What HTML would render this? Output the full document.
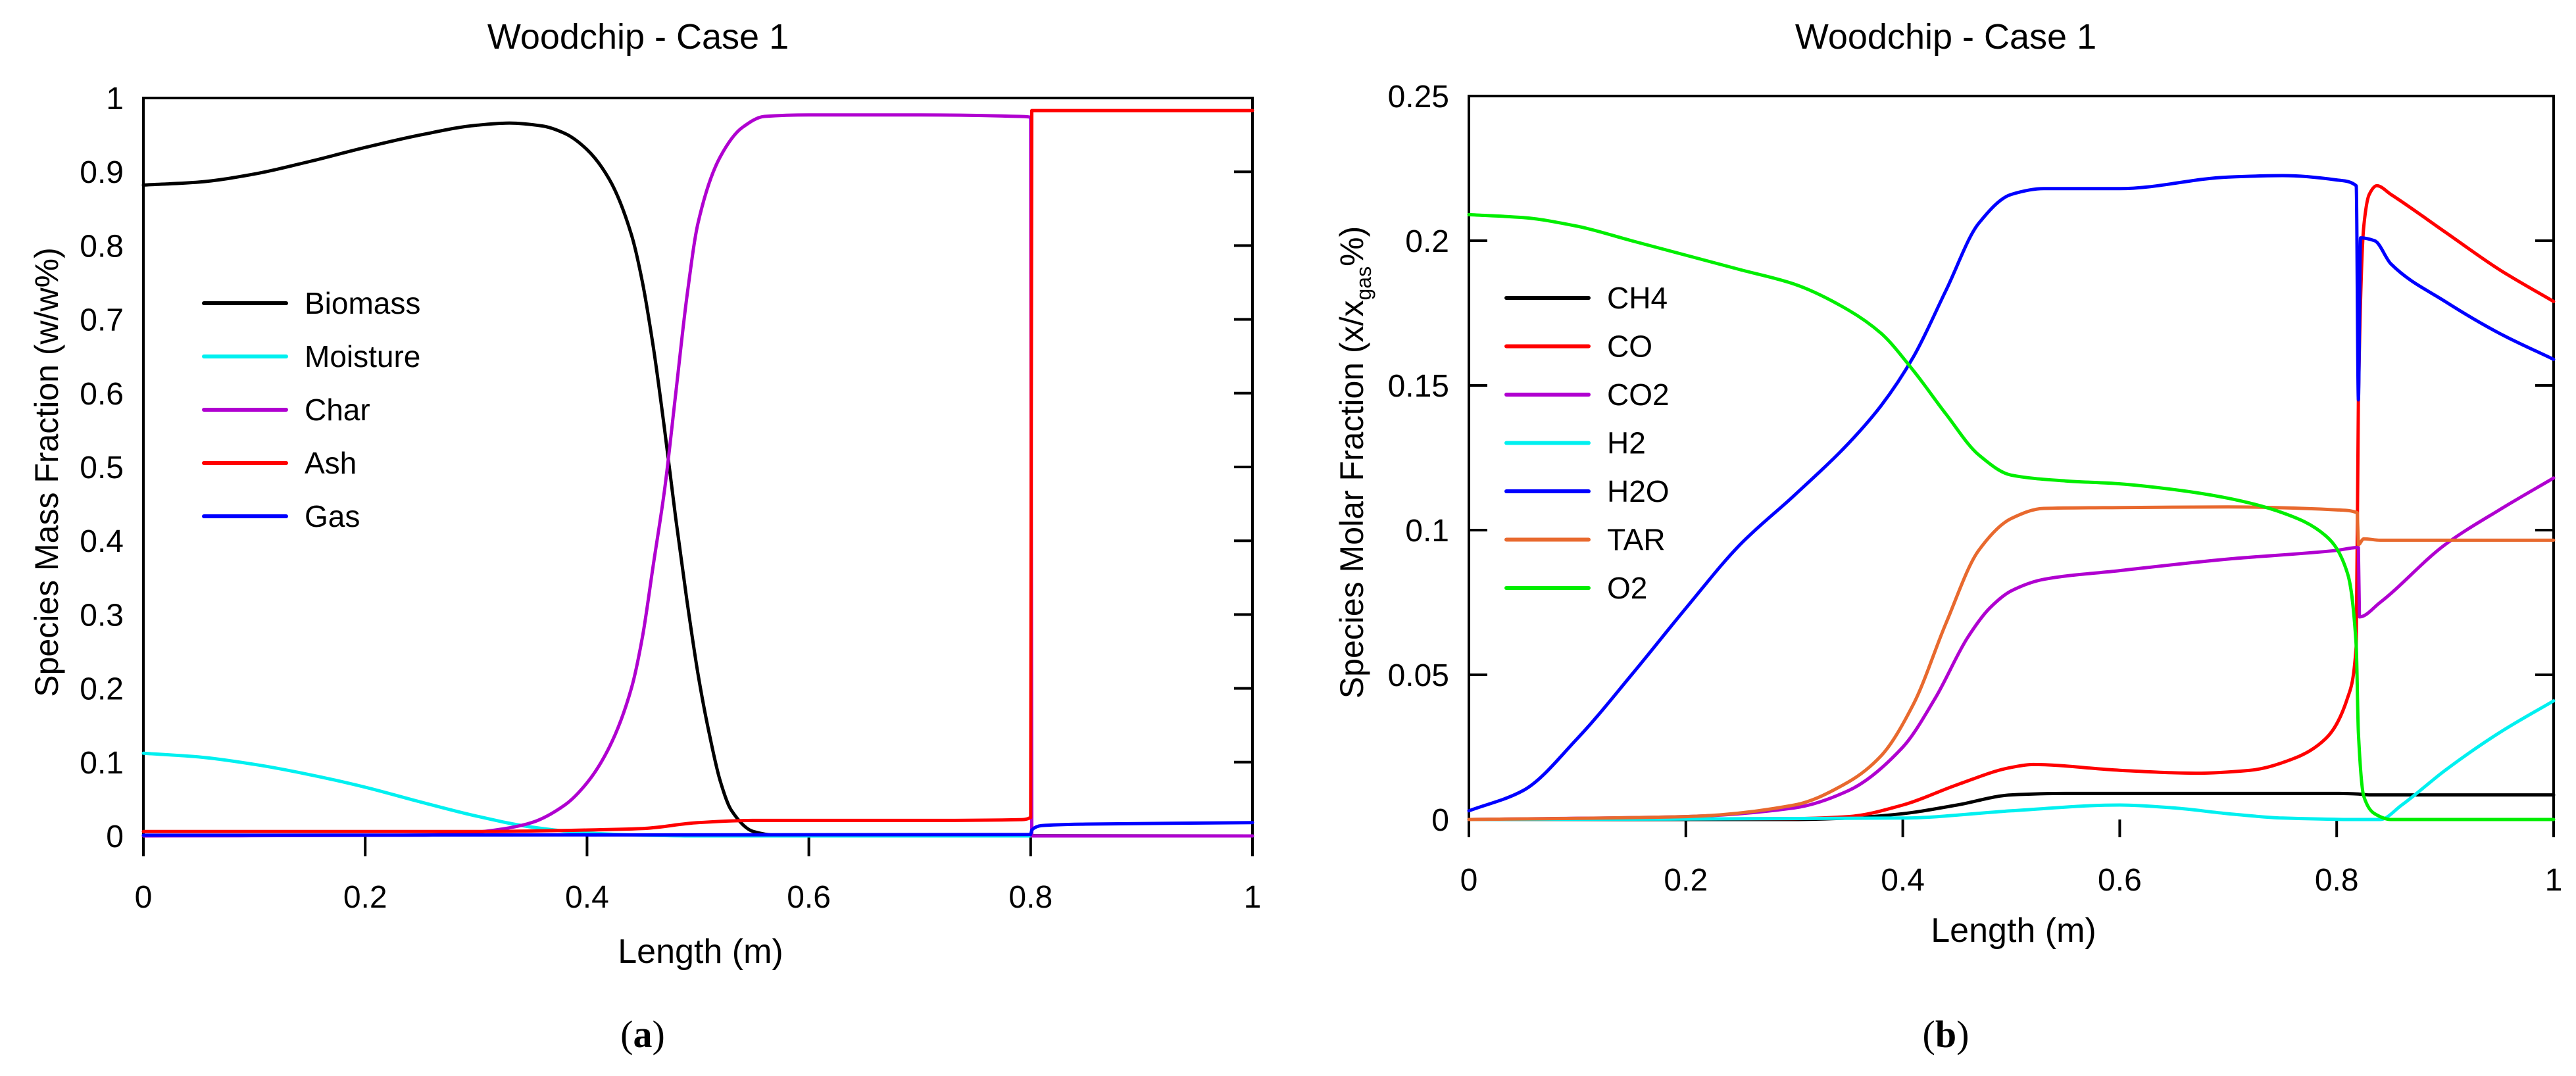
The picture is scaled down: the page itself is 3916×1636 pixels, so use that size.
<!DOCTYPE html>
<html><head><meta charset="utf-8">
<style>
html,body{margin:0;padding:0;background:#fff;}
svg{display:block;font-family:"Liberation Sans",sans-serif;}
</style></head>
<body>
<svg id="fig" width="3916" height="1636" viewBox="0 0 3916 1636">
  <g id="panelA"></g>
  <g id="panelB"></g>
</svg>
<script>
// ---------- Panel (a) data ----------
const aBiomassX = [0,0.05,0.1,0.15,0.2,0.25,0.3,0.33,0.36,0.38,0.4,0.42,0.44,0.45,0.46,0.47,0.48,0.49,0.5,0.51,0.52,0.53,0.55,0.57,1];
const aBiomassY = [0.882,0.886,0.897,0.914,0.933,0.95,0.963,0.966,0.962,0.952,0.93,0.89,0.815,0.75,0.66,0.55,0.43,0.32,0.22,0.14,0.075,0.035,0.006,0.001,0];
const aMoistX = [0,0.05,0.1,0.15,0.2,0.25,0.3,0.35,0.4,0.45,0.5,1];
const aMoistY = [0.112,0.107,0.097,0.083,0.066,0.046,0.027,0.012,0.004,0.001,0,0];
const aCharX = [0,0.25,0.3,0.33,0.35,0.38,0.4,0.42,0.44,0.45,0.46,0.47,0.48,0.49,0.5,0.52,0.54,0.56,0.6,0.7,0.79,0.8,0.801,1];
const aCharY = [0,0.001,0.005,0.011,0.018,0.042,0.072,0.12,0.2,0.27,0.37,0.47,0.6,0.73,0.83,0.92,0.96,0.975,0.977,0.977,0.975,0.974,0,0];
const aAshX = [0,0.3,0.4,0.45,0.5,0.55,0.7,0.79,0.8,0.801,1];
const aAshY = [0.006,0.006,0.008,0.01,0.018,0.021,0.021,0.022,0.025,0.983,0.983];
const aGasX = [0,0.8,0.801,0.81,0.85,1];
const aGasY = [0.001,0.002,0.008,0.014,0.016,0.018];
const aXTicks = [0,0.2,0.4,0.6,0.8,1];
const aXTickLabels = ["0","0.2","0.4","0.6","0.8","1"];
const aYTicks = [0,0.1,0.2,0.3,0.4,0.5,0.6,0.7,0.8,0.9,1];
const aYTickLabels = ["0","0.1","0.2","0.3","0.4","0.5","0.6","0.7","0.8","0.9","1"];

// ---------- Panel (b) data ----------
const bCH4X = [0,0.3,0.35,0.4,0.45,0.5,0.55,0.8,0.82,0.83,1];
const bCH4Y = [0,0,0.0005,0.002,0.005,0.0085,0.009,0.009,0.0088,0.0085,0.0085];
const bCOX = [0,0.3,0.35,0.4,0.45,0.5,0.52,0.6,0.67,0.72,0.76,0.79,0.81,0.818,0.82,0.825,0.83,0.837,0.85,0.9,0.95,1];
const bCOY = [0,0.0003,0.001,0.005,0.012,0.018,0.019,0.017,0.016,0.017,0.021,0.028,0.042,0.06,0.145,0.205,0.216,0.219,0.216,0.203,0.19,0.179];
const bCO2X = [0,0.2,0.3,0.35,0.4,0.43,0.46,0.48,0.5,0.53,0.6,0.7,0.8,0.82,0.821,0.84,0.9,0.95,1];
const bCO2Y = [0,0.001,0.004,0.01,0.025,0.042,0.063,0.073,0.079,0.083,0.086,0.09,0.093,0.094,0.07,0.075,0.095,0.107,0.118];
const bH2X = [0,0.4,0.5,0.6,0.65,0.7,0.75,0.819,0.821,0.84,0.86,0.9,0.95,1];
const bH2Y = [0,0.0005,0.003,0.005,0.004,0.002,0.0005,0,0,0,0.005,0.017,0.03,0.041];
const bH2OX = [0,0.05,0.1,0.15,0.2,0.25,0.3,0.35,0.38,0.41,0.44,0.47,0.5,0.53,0.6,0.7,0.75,0.8,0.818,0.82,0.822,0.835,0.85,0.9,0.95,1];
const bH2OY = [0.003,0.01,0.028,0.05,0.073,0.095,0.112,0.13,0.143,0.16,0.183,0.206,0.216,0.218,0.218,0.222,0.2225,0.221,0.219,0.145,0.201,0.2,0.192,0.179,0.168,0.159];
const bTARX = [0,0.2,0.3,0.35,0.38,0.41,0.44,0.47,0.5,0.53,0.6,0.7,0.8,0.819,0.82,0.825,0.84,1];
const bTARY = [0,0.001,0.005,0.013,0.022,0.04,0.068,0.093,0.104,0.1075,0.1078,0.108,0.107,0.106,0.095,0.097,0.0965,0.0965];
const bO2X = [0,0.05,0.1,0.15,0.2,0.25,0.3,0.35,0.38,0.41,0.44,0.47,0.5,0.55,0.6,0.65,0.7,0.75,0.79,0.81,0.818,0.82,0.825,0.835,0.85,1];
const bO2Y = [0.209,0.208,0.205,0.2,0.195,0.19,0.185,0.176,0.168,0.155,0.14,0.126,0.119,0.117,0.116,0.114,0.111,0.106,0.098,0.085,0.06,0.03,0.008,0.002,0,0];
const bXTicks = [0,0.2,0.4,0.6,0.8,1];
const bXTickLabels = ["0","0.2","0.4","0.6","0.8","1"];
const bYTicks = [0,0.05,0.1,0.15,0.2,0.25];
const bYTickLabels = ["0","0.05","0.1","0.15","0.2","0.25"];

const NS = "http://www.w3.org/2000/svg";
function mk(tag, attrs, parent){
  const e = document.createElementNS(NS, tag);
  for (const k in attrs) e.setAttribute(k, attrs[k]);
  parent.appendChild(e);
  return e;
}

function monoPath(px, py){
  const n = px.length;
  if (n < 3) return 'M' + px.map((x,i)=>x.toFixed(1)+','+py[i].toFixed(1)).join(' L');
  const d = [], m = new Array(n);
  for (let i=0;i<n-1;i++){ const dx = px[i+1]-px[i]; d.push(dx === 0 ? 0 : (py[i+1]-py[i])/dx); }
  m[0] = d[0]; m[n-1] = d[n-2];
  for (let i=1;i<n-1;i++){
    if (d[i-1]*d[i] <= 0) m[i] = 0;
    else { const w1 = 2*(px[i+1]-px[i]) + (px[i]-px[i-1]), w2 = (px[i+1]-px[i]) + 2*(px[i]-px[i-1]);
      m[i] = (w1+w2)/(w1/d[i-1] + w2/d[i]); }
  }
  let s = 'M' + px[0].toFixed(1) + ',' + py[0].toFixed(1);
  for (let i=0;i<n-1;i++){
    const h = px[i+1]-px[i];
    if (h < 3) { s += ' L' + px[i+1].toFixed(1) + ',' + py[i+1].toFixed(1); continue; }
    const c1x = px[i]+h/3, c1y = py[i]+m[i]*h/3;
    const c2x = px[i+1]-h/3, c2y = py[i+1]-m[i+1]*h/3;
    s += ` C${c1x.toFixed(1)},${c1y.toFixed(1)} ${c2x.toFixed(1)},${c2y.toFixed(1)} ${px[i+1].toFixed(1)},${py[i+1].toFixed(1)}`;
  }
  return s;
}

function drawPanel(g, cfg){
  const xs = v => cfg.x0 + (v - cfg.xmin) / (cfg.xmax - cfg.xmin) * (cfg.x1 - cfg.x0);
  const ys = v => cfg.y0 - (v - cfg.ymin) / (cfg.ymax - cfg.ymin) * (cfg.y0 - cfg.y1);
  const frame = mk('path', {d:`M${cfg.x0},${cfg.bottom} L${cfg.x0},${cfg.y1} L${cfg.x1},${cfg.y1} L${cfg.x1},${cfg.bottom}`, fill:'none', stroke:'#000', 'stroke-width':4}, g);
  
  
  cfg.yTicks.forEach((t, i) => {
    const y = ys(t);
    if (cfg.rightTicks && t > cfg.ymin && t < cfg.ymax) {
      const tk = mk('line', {x1:cfg.x1-28, x2:cfg.x1, y1:y, y2:y, stroke:'#000', 'stroke-width':4}, g);
      
      
    }
    if (cfg.leftTicks && t > cfg.ymin && t < cfg.ymax) {
      const tk2 = mk('line', {x1:cfg.x0, x2:cfg.x0+28, y1:y, y2:y, stroke:'#000', 'stroke-width':4}, g);
      
      
    }
    const lb = mk('text', {x:cfg.x0-30, y:y+17, 'text-anchor':'end', 'font-size':48, fill:'#000'}, g);
    lb.textContent = cfg.yTickLabels[i];
    
    
  });
  cfg.xTicks.forEach((t, i) => {
    const x = xs(t);
    const tk = mk('line', {x1:x, x2:x, y1:cfg.y0, y2:cfg.bottom, stroke:'#000', 'stroke-width':4}, g);
    
    
    const lb = mk('text', {x:x, y:cfg.xLabelY, 'text-anchor':'middle', 'font-size':48, fill:'#000'}, g);
    lb.textContent = cfg.xTickLabels[i];
    
    
  });
  cfg.series.forEach(s => {
    const px = s.x.map(xs), py = s.y.map(ys);
    const pl = mk('path', {d:monoPath(px, py), fill:'none', stroke:s.color, 'stroke-width':5, 'stroke-linejoin':'round', 'stroke-linecap':'round'}, g);
    
    
  });
  cfg.series.forEach((s, i) => {
    const ly = cfg.legY + i * cfg.legDy;
    const ln = mk('line', {x1:cfg.legX, x2:cfg.legX+125, y1:ly, y2:ly, stroke:s.color, 'stroke-width':6, 'stroke-linecap':'round'}, g);
    
    
    const tx = mk('text', {x:cfg.legX+153, y:ly+16, 'font-size':46, fill:'#000'}, g);
    tx.textContent = s.name;
    
    
  });
}

drawPanel(document.getElementById('panelA'), {
  x0:218, x1:1904, y0:1271, y1:149, bottom:1302, xmin:0, xmax:1, ymin:0, ymax:1,
  xTicks:aXTicks, xTickLabels:aXTickLabels, yTicks:aYTicks, yTickLabels:aYTickLabels,
  rightTicks:true, leftTicks:false, xLabelY:1380,
  legX:310, legY:461, legDy:81,
  series:[
    {name:'Biomass', color:'#000000', x:aBiomassX, y:aBiomassY},
    {name:'Moisture', color:'#00f0f0', x:aMoistX, y:aMoistY},
    {name:'Char', color:'#b000d0', x:aCharX, y:aCharY},
    {name:'Ash', color:'#ff0000', x:aAshX, y:aAshY},
    {name:'Gas', color:'#0000ff', x:aGasX, y:aGasY}
  ]
});
drawPanel(document.getElementById('panelB'), {
  x0:2233, x1:3882, y0:1246, y1:146, bottom:1273, xmin:0, xmax:1, ymin:0, ymax:0.25,
  xTicks:bXTicks, xTickLabels:bXTickLabels, yTicks:bYTicks, yTickLabels:bYTickLabels,
  rightTicks:true, leftTicks:true, xLabelY:1354,
  legX:2290, legY:453, legDy:73.5,
  series:[
    {name:'CH4', color:'#000000', x:bCH4X, y:bCH4Y},
    {name:'CO', color:'#ff0000', x:bCOX, y:bCOY},
    {name:'CO2', color:'#b000d0', x:bCO2X, y:bCO2Y},
    {name:'H2', color:'#00f0f0', x:bH2X, y:bH2Y},
    {name:'H2O', color:'#0000ff', x:bH2OX, y:bH2OY},
    {name:'TAR', color:'#e8692e', x:bTARX, y:bTARY},
    {name:'O2', color:'#00ee00', x:bO2X, y:bO2Y}
  ]
});
</script>
<svg width="3916" height="1636" style="position:absolute;left:0;top:0;" viewBox="0 0 3916 1636">
  <text x="970" y="74" text-anchor="middle" font-size="54" font-family="Liberation Sans, sans-serif">Woodchip - Case 1</text>
  <text x="2958" y="74" text-anchor="middle" font-size="54" font-family="Liberation Sans, sans-serif">Woodchip - Case 1</text>
  <text x="1065" y="1464" text-anchor="middle" font-size="52" font-family="Liberation Sans, sans-serif">Length (m)</text>
  <text x="3061" y="1432" text-anchor="middle" font-size="52" font-family="Liberation Sans, sans-serif">Length (m)</text>
  <text transform="translate(88,718) rotate(-90)" text-anchor="middle" font-size="50" font-family="Liberation Sans, sans-serif">Species Mass Fraction (w/w%)</text>
  <text transform="translate(2072,703) rotate(-90)" text-anchor="middle" font-size="50" font-family="Liberation Sans, sans-serif">Species Molar Fraction (x/x<tspan font-size="32" dy="12">gas</tspan><tspan dy="-12">%)</tspan></text>
  <text x="977" y="1592" text-anchor="middle" font-size="58" font-family="Liberation Serif, serif">(<tspan font-weight="bold">a</tspan>)</text>
  <text x="2958" y="1592" text-anchor="middle" font-size="58" font-family="Liberation Serif, serif">(<tspan font-weight="bold">b</tspan>)</text>
</svg>
</body></html>
